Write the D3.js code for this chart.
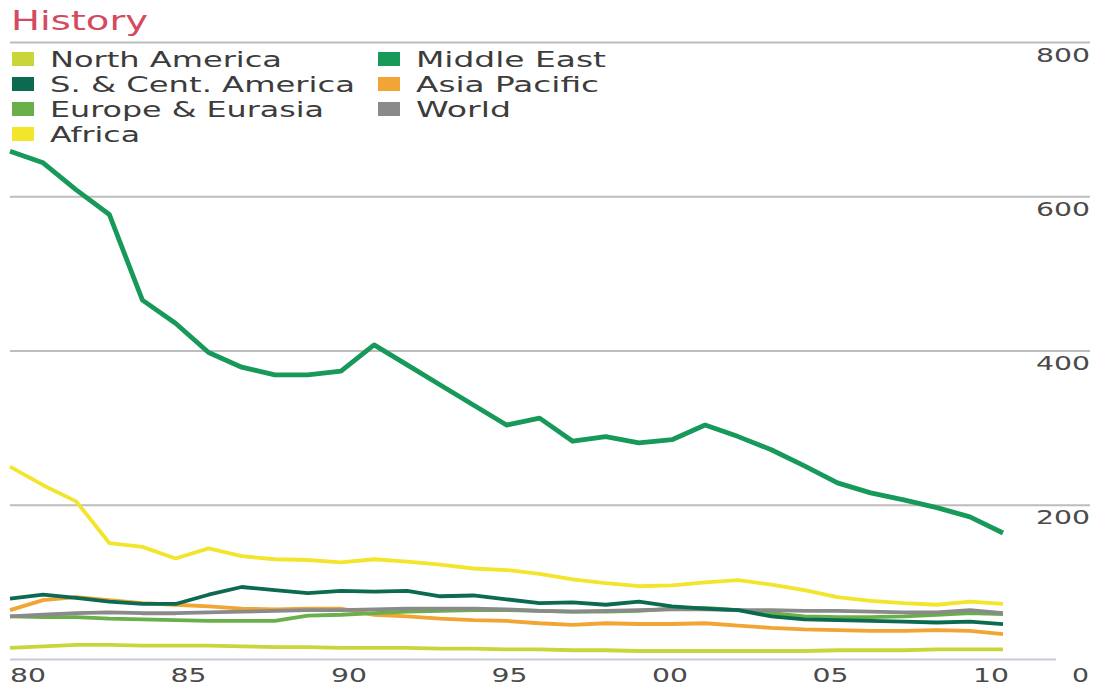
<!DOCTYPE html>
<html>
<head>
<meta charset="utf-8">
<script src="https://cdn.jsdelivr.net/npm/d3@7"></script>
<style>
  html, body { margin: 0; padding: 0; background: #ffffff; }
  svg { display: block; }
  text { font-family: "DejaVu Sans", "Liberation Sans", sans-serif; }
</style>
</head>
<body>
<svg id="chart" width="1097" height="687"></svg>
<script>
// Reserves-to-production history, 1980-2010 (years)
const years = d3.range(1980, 2011);

const northAmerica = [15,17,19,19,18,18,18,17,16,16,15,15,15,14,14,13,13,12,12,11,11,11,11,11,11,12,12,12,13,13,13];
const southCentAmerica = [79,84,80,75,72,72,84,94,90,86,89,88,89,82,83,78,73,74,71,75,69,66,64,56,52,51,50,49,48,49,46];
const europeEurasia = [56,55,55,53,52,51,50,50,50,57,58,60,62,63,64,64,63,62,62,63,66,67,64,60,56,55,55,56,58,60,59];
const africa = [250,226,205,151,146,131,144,134,130,129,126,130,127,123,118,116,111,104,99,95,96,100,103,97,90,81,76,73,71,75,72];
const middleEast = [659,644,609,577,466,436,398,379,369,369,374,408,382,356,330,304,313,283,289,281,285,304,289,272,251,229,216,207,197,185,164];
const asiaPacific = [64,77,81,77,73,71,69,66,65,66,66,58,56,53,51,50,47,45,47,46,46,47,44,41,39,38,37,37,38,37,33];
const world = [56,58,60,61,60,60,61,62,63,64,64,65,66,66,66,65,63,62,63,64,65,65,64,64,63,63,62,61,61,64,60];

const seriesNames = ["North America", "S. & Cent. America", "Europe & Eurasia", "Africa", "Middle East", "Asia Pacific", "World"];
const seriesColors = ["#c9d63a", "#0c6a50", "#69b04a", "#f2e52c", "#17995a", "#f0a535", "#8a8a8a"];
const seriesValues = [northAmerica, southCentAmerica, europeEurasia, africa, middleEast, asiaPacific, world];

const yTicks = [200, 400, 600, 800];
const xTickYears = [1980, 1985, 1990, 1995, 2000, 2005, 2010];
const xTickLabels = ["80", "85", "90", "95", "00", "05", "10"];

const svg = d3.select("#chart");

const x = d3.scaleLinear().domain([1980, 2010]).range([10, 1003]);
const y = d3.scaleLinear().domain([0, 800]).range([659.5, 42.5]);
// year labels sit on their own, slightly narrower spacing
const xLabel = d3.scaleLinear().domain([1980, 2010]).range([28, 991]);

// Title
svg.append("text")
  .attr("x", 11).attr("y", 30)
  .attr("font-size", 26)
  .attr("fill", "#d44a5e")
  .attr("textLength", 137).attr("lengthAdjust", "spacingAndGlyphs")
  .text("History");

// Horizontal gridlines
svg.append("g").selectAll("line")
  .data(yTicks)
  .join("line")
  .attr("x1", 10).attr("x2", 1090)
  .attr("y1", d => y(d)).attr("y2", d => y(d))
  .attr("stroke", "#bdbdbd").attr("stroke-width", 2);

// Baseline
svg.append("line")
  .attr("x1", 10).attr("x2", 1056)
  .attr("y1", y(0)).attr("y2", y(0))
  .attr("stroke", "#cbcad8").attr("stroke-width", 2);

// Right-hand value labels, placed under each gridline
svg.append("g").selectAll("text")
  .data(yTicks)
  .join("text")
  .attr("x", 1090).attr("y", d => y(d) + 19)
  .attr("text-anchor", "end")
  .attr("font-size", 19)
  .attr("fill", "#4a4a4a")
  .attr("textLength", 54).attr("lengthAdjust", "spacingAndGlyphs")
  .text(d => d);

svg.append("text")
  .attr("x", 1089).attr("y", y(0) + 22)
  .attr("text-anchor", "end")
  .attr("font-size", 19)
  .attr("fill", "#4a4a4a")
  .attr("textLength", 17).attr("lengthAdjust", "spacingAndGlyphs")
  .text("0");

// Year labels
svg.append("g").selectAll("text")
  .data(xTickYears)
  .join("text")
  .attr("x", d => xLabel(d))
  .attr("y", y(0) + 22)
  .attr("text-anchor", "middle")
  .attr("font-size", 19)
  .attr("fill", "#4a4a4a")
  .attr("textLength", 36).attr("lengthAdjust", "spacingAndGlyphs")
  .text((d, i) => xTickLabels[i]);

// Lines
const line = d3.line()
  .x((d, i) => x(years[i]))
  .y(d => y(d))
  .curve(d3.curveLinear);

const drawOrder = [0, 3, 4, 5, 2, 6, 1];
svg.append("g").selectAll("path")
  .data(drawOrder)
  .join("path")
  .attr("d", k => line(seriesValues[k]))
  .attr("fill", "none")
  .attr("stroke", k => seriesColors[k])
  .attr("stroke-width", k => k === 4 ? 4.8 : 3.8)
  .attr("stroke-linejoin", "round")
  .attr("stroke-linecap", "butt");

// Legend
const legendPos = [
  {col: 0, row: 0}, {col: 0, row: 1}, {col: 0, row: 2}, {col: 0, row: 3},
  {col: 1, row: 0}, {col: 1, row: 1}, {col: 1, row: 2}
];
const legendWidths = [232, 305, 274, 90, 190, 183, 95];
const colX = [12, 378];
const legend = svg.append("g");
seriesNames.forEach((name, i) => {
  const p = legendPos[i];
  const cy = 59 + p.row * 25;
  legend.append("rect")
    .attr("x", colX[p.col]).attr("y", cy - 7)
    .attr("width", 22).attr("height", 14)
    .attr("fill", seriesColors[i]);
  legend.append("text")
    .attr("x", colX[p.col] + 38).attr("y", cy + 8)
    .attr("font-size", 22)
    .attr("fill", "#3c3c3c")
    .attr("textLength", legendWidths[i]).attr("lengthAdjust", "spacingAndGlyphs")
    .text(name);
});
</script>
</body>
</html>
